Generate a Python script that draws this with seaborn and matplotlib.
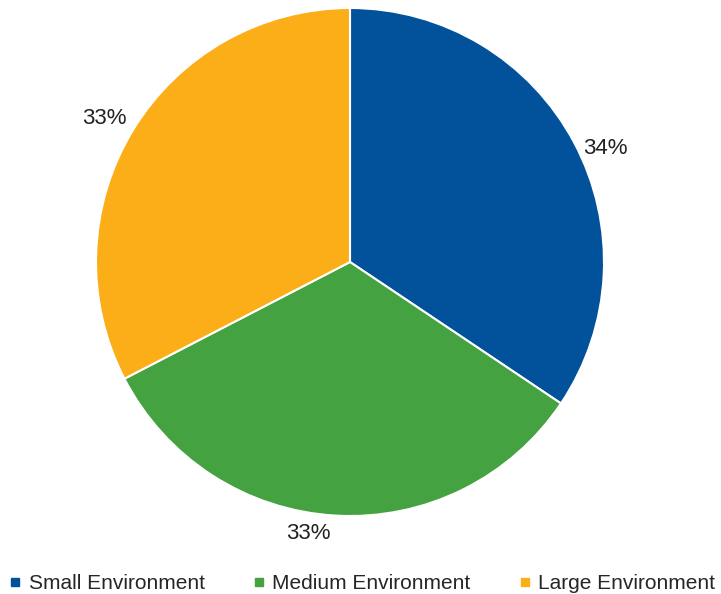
import numpy as np
import seaborn as sns
import matplotlib.pyplot as plt
from matplotlib.lines import Line2D

categories = ['Small Environment', 'Medium Environment', 'Large Environment']
shares = [34.4, 33.0, 32.6]
pct_labels = ['34%', '33%', '33%']
colors = ['#01519B', '#44A340', '#FBAE17']

# label placement tweaks (angle shift in degrees, radius)
label_shift = [-4, -5.4, 1]
label_radius = [1.10, 1.08, 1.12]

sns.set_theme(style='white')
plt.rcParams['font.family'] = ['Liberation Sans', 'DejaVu Sans']

fig = plt.figure(figsize=(7.21, 5.94), dpi=100)
ax = fig.add_axes([96 / 721, 78 / 594, 508 / 721, 508 / 594])

wedges, _ = ax.pie(shares, colors=colors, startangle=90, counterclock=False,
                   wedgeprops=dict(edgecolor='white', linewidth=1.5))

# percent labels just outside each wedge
for w, lab, sh, r in zip(wedges, pct_labels, label_shift, label_radius):
    ang = np.deg2rad((w.theta1 + w.theta2) / 2 + sh)
    ax.text(r * np.cos(ang), r * np.sin(ang), lab, ha='center', va='center',
            fontsize=16, color='#222222')

ax.set_xlim(-1, 1)
ax.set_ylim(-1, 1)
ax.set_aspect('equal')
ax.axis('off')

handles = [Line2D([], [], marker='s', linestyle='', markersize=6, color=c) for c in colors]
fig.legend(handles, categories, loc='lower center', ncol=3, frameon=False,
           bbox_to_anchor=(0.502, -0.03), fontsize=15, handlelength=0.6,
           handletextpad=0.35, columnspacing=2.3)

fig.savefig('out.png', dpi=100)
